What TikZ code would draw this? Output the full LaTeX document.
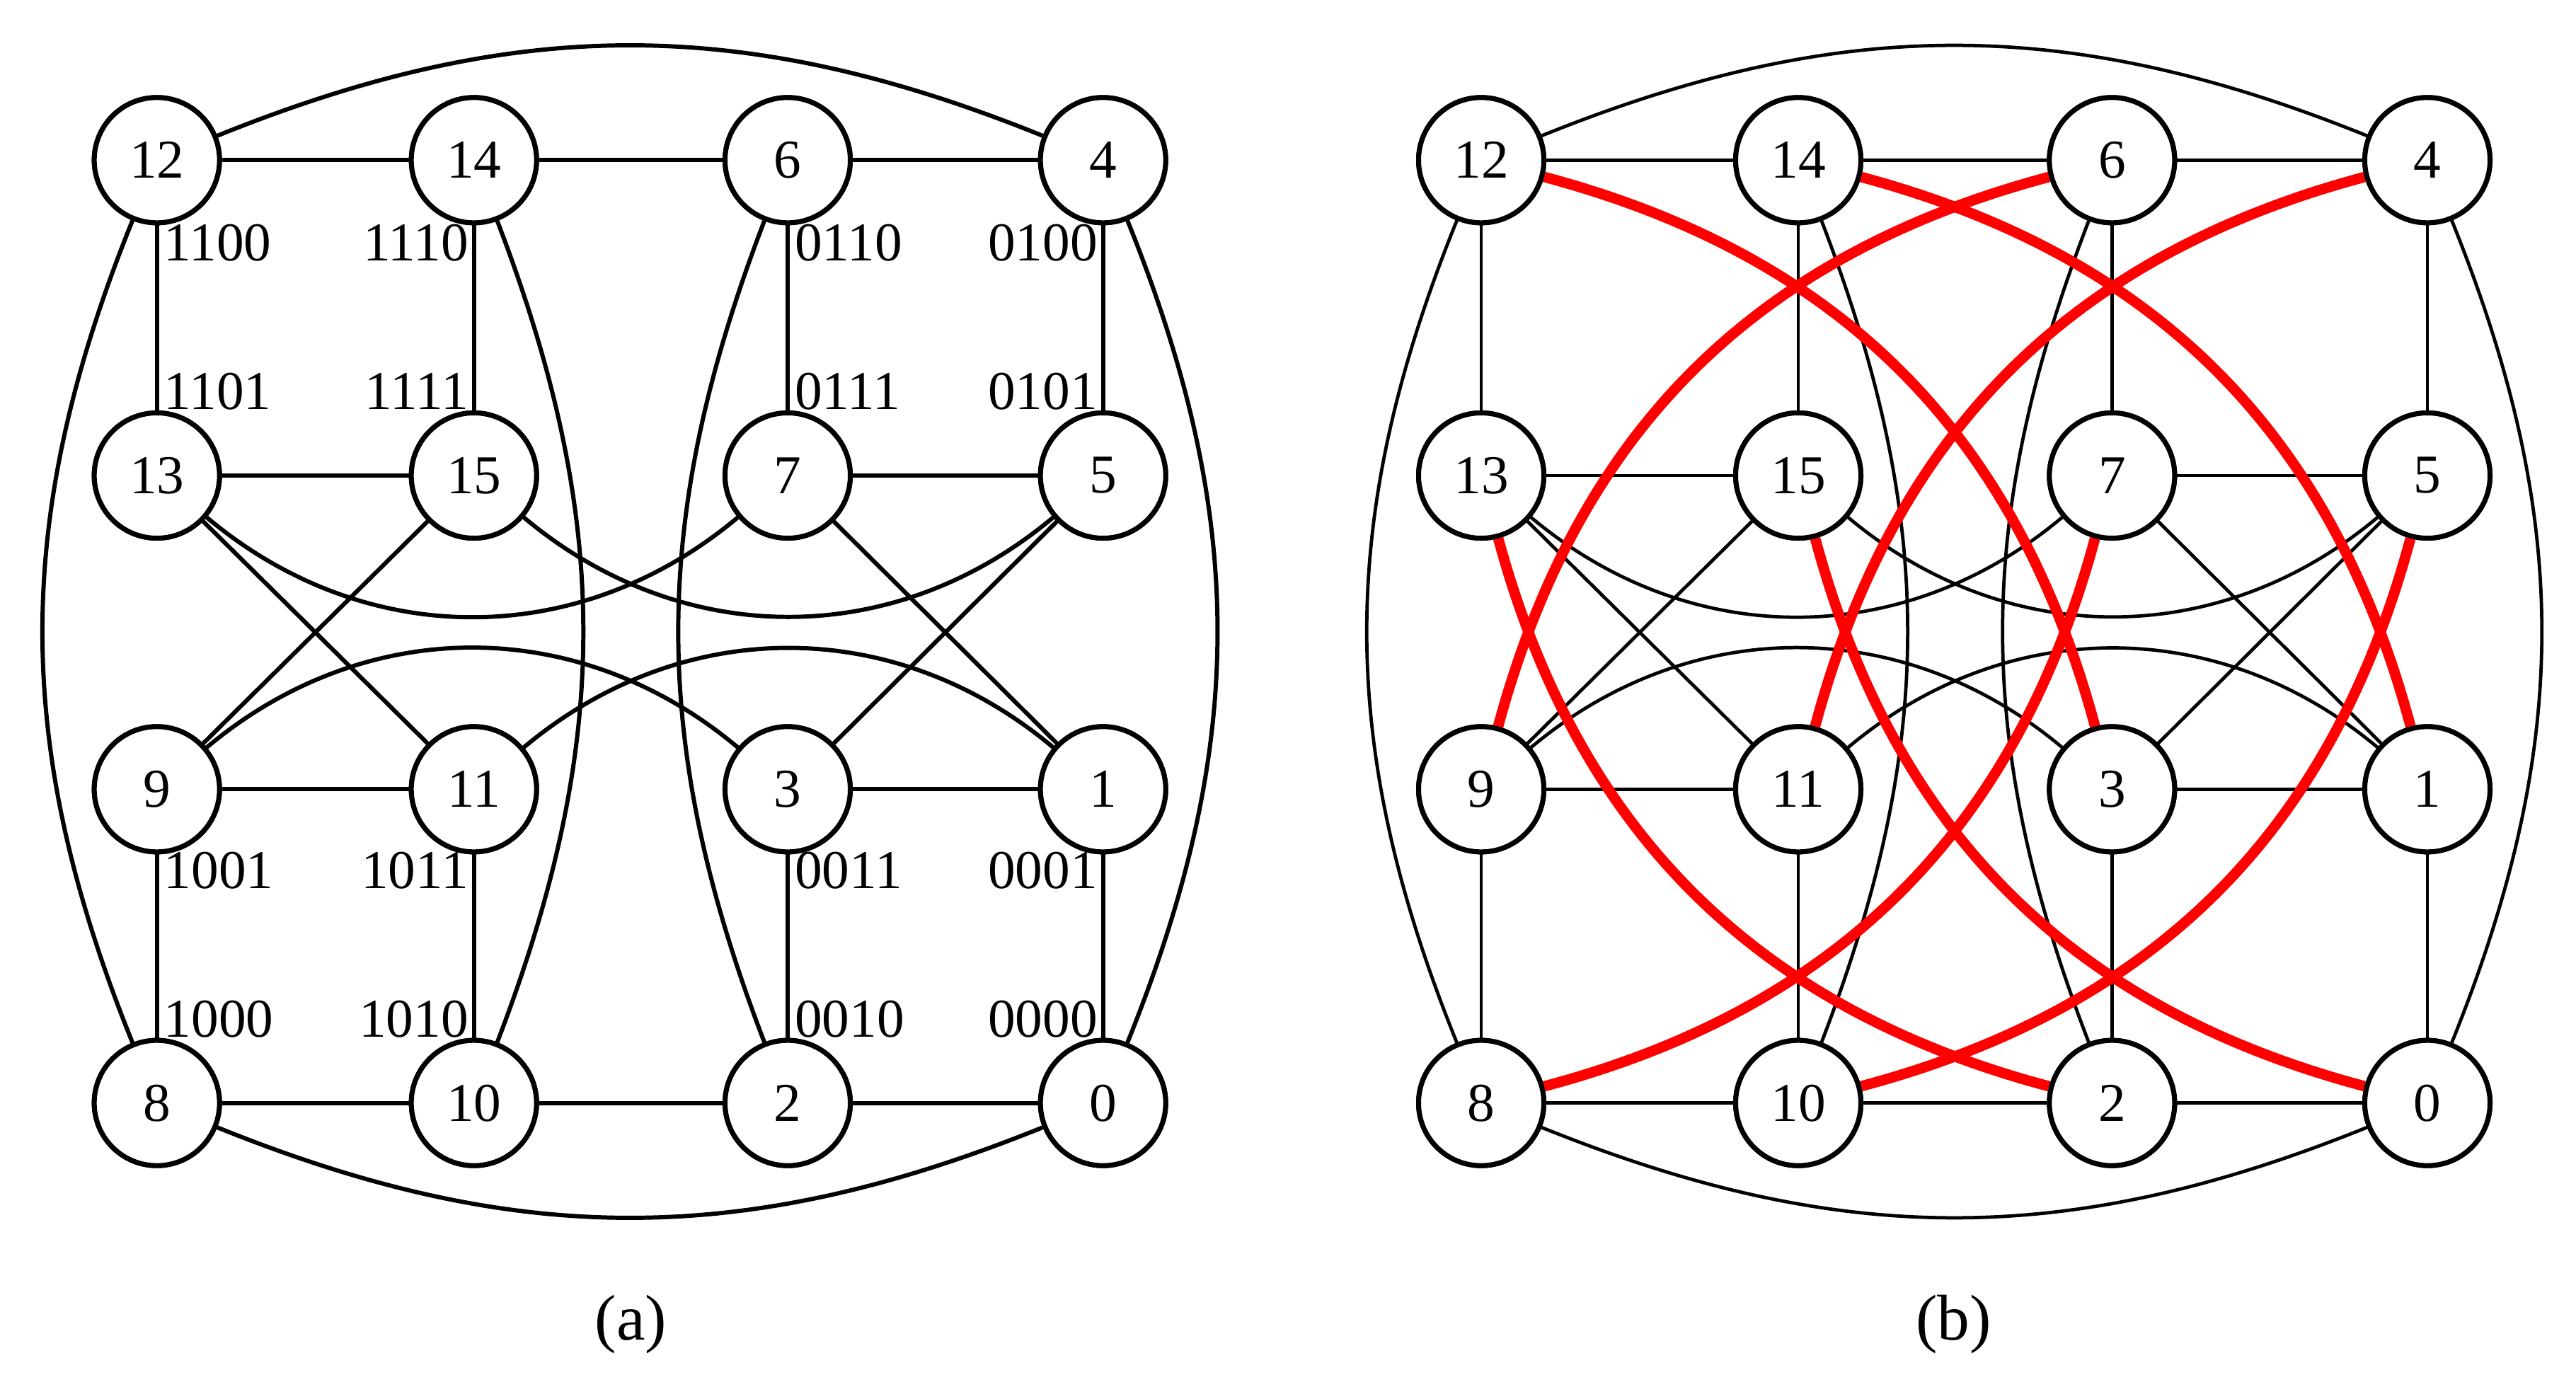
\documentclass[tikz,border=0pt]{standalone}
\usepackage{fontspec}
\setmainfont{Liberation Serif}
\begin{document}
\begin{tikzpicture}[x=0.023333cm,y=-0.023333cm,
  vtx/.style={circle,draw,line width=2pt,minimum size=1.77cm,inner sep=0pt,fill=white,font=\fontsize{22}{24}\selectfont},
  ed/.style={line width=1.7pt},
  rd/.style={line width=4.2pt,red},
  bin/.style={font=\fontsize{22}{24}\selectfont,inner sep=0pt},
  captxt/.style={font=\fontsize{26}{28}\selectfont}]
\useasboundingbox (0,0) rectangle (1560,840);
\foreach \p/\dx in {a/0,b/802}{
  \begin{scope}[xshift=\dx*0.023333cm]
  \foreach \n/\x/\y in {12/95/97,14/287/97,6/477/97,4/668/97,
                        13/95/288,15/287/288,7/477/288,5/668/288,
                        9/95/478,11/287/478,3/477/478,1/668/478,
                        8/95/668,10/287/668,2/477/668,0/668/668}
    \node[vtx] (\p\n) at (\x,\y) {\n};
  \end{scope}
}
\foreach \p/\w in {a/1.7pt,b/1.35pt}{
  \begin{scope}[ed/.style={line width=\w}]
  \foreach \u/\v in {12/14,14/6,6/4,13/15,7/5,9/11,3/1,8/10,10/2,2/0,
                     12/13,14/15,6/7,4/5,9/8,11/10,3/2,1/0,
                     13/11,15/9,7/1,5/3}
    \draw[ed] (\p\u) -- (\p\v);
  \draw[ed] (\p12) to[bend left=22] (\p4);
  \draw[ed] (\p8) to[bend right=22] (\p0);
  \draw[ed] (\p12) to[bend right=22] (\p8);
  \draw[ed] (\p4) to[bend left=22] (\p0);
  \draw[ed] (\p14) to[bend left=21] (\p10);
  \draw[ed] (\p6) to[bend right=21] (\p2);
  \draw[ed] (\p13) to[bend right=40] (\p7);
  \draw[ed] (\p15) to[bend right=40] (\p5);
  \draw[ed] (\p9) to[bend left=40] (\p3);
  \draw[ed] (\p11) to[bend left=40] (\p1);
  \end{scope}
}
\draw[rd] (b12) to[bend left=30] (b3);
\draw[rd] (b14) to[bend left=30] (b1);
\draw[rd] (b6) to[bend right=30] (b9);
\draw[rd] (b4) to[bend right=30] (b11);
\draw[rd] (b13) to[bend right=30] (b2);
\draw[rd] (b15) to[bend right=30] (b0);
\draw[rd] (b7) to[bend left=30] (b8);
\draw[rd] (b5) to[bend left=30] (b10);
\foreach \p in {a,b}{
  \foreach \n in {0,...,15}
    \node[vtx] (r\p\n) at (\p\n) {\n};
}
\foreach \y/\la/\lb/\lc/\ld in {147/1100/1110/0110/0100,237/1101/1111/0111/0101,
                                527/1001/1011/0011/0001,617/1000/1010/0010/0000}{
  \node[bin,anchor=west] (L\la) at (99,\y) {\la};
  \node[bin,anchor=east] (L\lb) at (284,\y) {\lb};
  \node[bin,anchor=west] (L\lc) at (481,\y) {\lc};
  \node[bin,anchor=east] (L\ld) at (665,\y) {\ld};
}
\node[captxt] (capa) at (382,802) {(a)};
\node[captxt] (capb) at (1183,802) {(b)};
\end{tikzpicture}
\end{document}
